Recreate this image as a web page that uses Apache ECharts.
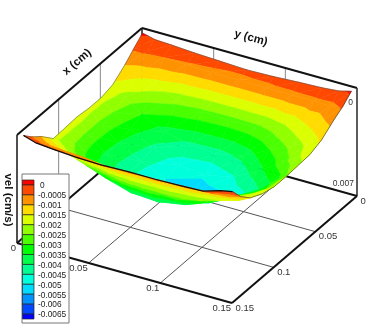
<!DOCTYPE html>
<html>
<head>
  <meta charset="UTF-8"/>
  <title></title>
  <style>
    html, body { margin: 0; background: #fff; }
    #main { width: 374px; height: 332px; filter: blur(0.35px); }
  </style>
</head>
<body>
<div id="main"></div>
<script src="https://cdn.jsdelivr.net/npm/echarts@6/dist/echarts.min.js"></script>
<script type="text/javascript">
    // mesh positions (cm)
    const xs = [0.0068, 0.0168, 0.0282, 0.0425, 0.0567, 0.071, 0.0852, 0.0995, 0.1137, 0.128, 0.1394, 0.1495]
    const ys = [0.0043, 0.013, 0.0247, 0.0407, 0.0582, 0.0772, 0.0961, 0.1136, 0.1296, 0.1413, 0.15]
    // vel (cm/s), one row per xs value, one column per ys value
    const vel = [
        [0.0001, -0.0001, -0.00015, -0.00025, -0.00032, -0.0004, -0.00035, -0.00026, -0.0002, -0.0001, 0.0001],
        [-0.0004, -0.0004, -0.0005, -0.00055, -0.0006, -0.0006, -0.0006, -0.0006, -0.0006, -0.00065, -0.0004],
        [-0.001, -0.0013, -0.0017, -0.0023, -0.0026, -0.0027, -0.0026, -0.0021, -0.0015, -0.0011, -0.0008],
        [-0.0016, -0.0022, -0.003, -0.0037, -0.0041, -0.0042, -0.0038, -0.003, -0.0023, -0.0018, -0.0014],
        [-0.0018, -0.0025, -0.0033, -0.0041, -0.00475, -0.0049, -0.00455, -0.0037, -0.0028, -0.0021, -0.0017],
        [-0.0018, -0.0027, -0.0035, -0.0043, -0.005, -0.0053, -0.0051, -0.0045, -0.0036, -0.0026, -0.00175],
        [-0.0017, -0.0027, -0.0036, -0.0044, -0.0049, -0.0053, -0.0049, -0.0041, -0.0033, -0.0027, -0.0018],
        [-0.00175, -0.0026, -0.0034, -0.0042, -0.0046, -0.0046, -0.0042, -0.0035, -0.0029, -0.0024, -0.0018],
        [-0.0018, -0.0021, -0.0027, -0.0034, -0.0039, -0.004, -0.0037, -0.0031, -0.0023, -0.0019, -0.0016],
        [-0.001, -0.0013, -0.0017, -0.002, -0.0024, -0.0026, -0.0026, -0.0023, -0.0019, -0.0016, -0.0012],
        [-0.0005, -0.0007, -0.0008, -0.0009, -0.0011, -0.0011, -0.0011, -0.001, -0.0009, -0.0008, -0.0006],
        [0.00005, -0.0002, -0.0003, -0.0004, -0.00045, -0.0004, -0.0004, -0.00036, -0.0003, 0.00003, 0.0002]
    ]
    // contour levels and the colour of each band, top band is above levels[0]
    const levels = [0, -0.0005, -0.001, -0.0015, -0.002, -0.0025, -0.003, -0.0035, -0.004, -0.0045, -0.005, -0.0055, -0.006, -0.0065]
    const levelLabels = ['0', '-0.0005', '-0.001', '-0.0015', '-0.002', '-0.0025', '-0.003', '-0.0035', '-0.004', '-0.0045', '-0.005', '-0.0055', '-0.006', '-0.0065']
    const bandColors = ['#ff0000', '#ff4900', '#ff9200', '#ffdb00', '#dbff00', '#92ff00', '#49ff00', '#00ff00', '#00ff49', '#00ff92', '#00ffdb', '#00dbff', '#0092ff', '#0049ff', '#0000ff']
    const xTicks = [0, 0.05, 0.1, 0.15]
    const xTickLabels = ['0', '0.05', '0.1', '0.15']
    const yTicks = [0, 0.05, 0.1, 0.15]
    const yTickLabels = ['0', '0.05', '0.1', '0.15']
    const velTop = 0
    const velBottom = -0.007

    // fixed view of the box: where the back top corner lands and what one full axis moves on the page
    const view = {ox: 142, oy: 28, xdx: -125, xdy: 107, ydx: 215, ydy: 60, zdy: 108}
    const axisMax = 0.15

    function project(x, y, v) {
        let fx = x / axisMax
        let fy = y / axisMax
        let fz = (velTop - v) / (velTop - velBottom)
        return [view.ox + fx * view.xdx + fy * view.ydx, view.oy + fx * view.xdy + fy * view.ydy + fz * view.zdy]
    }

    // keep the part of a polygon whose vel is between lo and hi
    function clipSide(poly, limit, keepAbove) {
        let out = []
        for (let i = 0; i < poly.length; i++) {
            let a = poly[i]
            let b = poly[(i + 1) % poly.length]
            let aIn = keepAbove ? a[2] >= limit : a[2] <= limit
            let bIn = keepAbove ? b[2] >= limit : b[2] <= limit
            if (aIn) out.push(a)
            if (aIn !== bIn) {
                let t = (limit - a[2]) / (b[2] - a[2])
                out.push([a[0] + t * (b[0] - a[0]), a[1] + t * (b[1] - a[1]), limit])
            }
        }
        return out
    }

    // cut the surface into filled contour pieces, back corner first so near cells paint over far ones
    let pieces = []
    function addTriangle(tri) {
        for (let b = 0; b < bandColors.length; b++) {
            let poly = tri
            if (b > 0) poly = clipSide(poly, levels[b - 1], false)
            if (poly.length && b < levels.length) poly = clipSide(poly, levels[b], true)
            if (poly.length > 2) pieces.push({poly: poly, color: bandColors[b]})
        }
    }
    for (let i = 0; i < xs.length - 1; i++) {
        for (let j = 0; j < ys.length - 1; j++) {
            let p00 = [xs[i], ys[j], vel[i][j]]
            let p01 = [xs[i], ys[j + 1], vel[i][j + 1]]
            let p10 = [xs[i + 1], ys[j], vel[i + 1][j]]
            let p11 = [xs[i + 1], ys[j + 1], vel[i + 1][j + 1]]
            addTriangle([p00, p01, p10])
            addTriangle([p01, p11, p10])
        }
    }

    // box edges and grid lines
    const xMin = xTicks[0], xMax = xTicks[3], yMin = yTicks[0], yMax = yTicks[3]
    let lines = []
    function addLine(a, b, width, color) {
        lines.push({a: a, b: b, width: width, color: color})
    }
    for (let k = 1; k < 3; k++) {
        addLine([xTicks[k], yMin, velBottom], [xTicks[k], yMax, velBottom], 1, '#555')
        addLine([xMin, yTicks[k], velBottom], [xMax, yTicks[k], velBottom], 1, '#555')
        addLine([xTicks[k], yMin, velBottom], [xTicks[k], yMin, velTop], 1, '#888')
        addLine([xMin, yTicks[k], velBottom], [xMin, yTicks[k], velTop], 1, '#888')
    }
    addLine([xMin, yMin, velBottom], [xMin, yMin, velTop], 1.5, '#222')
    addLine([xMin, yMin, velTop], [xMax, yMin, velTop], 2, '#111')
    addLine([xMin, yMin, velTop], [xMin, yMax, velTop], 2, '#111')
    addLine([xMax, yMin, velTop], [xMax, yMin, velBottom], 1.6, '#222')
    addLine([xMin, yMax, velTop], [xMin, yMax, velBottom], 1.6, '#333')
    addLine([xMin, yMin, velBottom], [xMax, yMin, velBottom], 2, '#111')
    addLine([xMin, yMin, velBottom], [xMin, yMax, velBottom], 2, '#111')
    addLine([xMax, yMin, velBottom], [xMax, yMax, velBottom], 2, '#111')
    addLine([xMin, yMax, velBottom], [xMax, yMax, velBottom], 2, '#111')

    // outline of the surface
    let rimLow = ys.map((y, j) => [xs[xs.length - 1], y, vel[xs.length - 1][j]])
    let rimBack = ys.map((y, j) => [xs[0], y, vel[0][j]])
    let rimLeft = xs.map((x, i) => [x, ys[0], vel[i][0]])
    let rimRight = xs.map((x, i) => [x, ys[ys.length - 1], vel[i][ys.length - 1]])
    let rims = [
        {pts: rimBack, width: 0.5, color: '#444'},
        {pts: rimLeft, width: 0.5, color: '#444'},
        {pts: rimRight, width: 0.6, color: '#333'},
        {pts: rimLow, width: 1.2, color: '#111'}
    ]

    let tickTexts = []
    xTicks.forEach((x, k) => {
        tickTexts.push({at: [x, yMax, velBottom], text: xTickLabels[k], dx: 3.5, dy: 5, align: 'left', size: 9.5})
    })
    yTicks.forEach((y, k) => {
        tickTexts.push({at: [xMax, y, velBottom], text: yTickLabels[k], dx: -1, dy: 5.5, align: 'right', size: 9.5})
    })
    tickTexts.push({at: [xMin, yMax, velTop], text: '0', dx: -4, dy: 15, align: 'right', size: 8.5})
    tickTexts.push({at: [xMin, yMax, velBottom], text: '0.007', dx: -3, dy: -12, align: 'right', size: 8.5})

    let titles = [
        {text: 'x (cm)', x: 77, y: 62, angle: 40.6},
        {text: 'y (cm)', x: 251, y: 38, angle: -15.6},
        {text: 'vel (cm/s)', x: 8, y: 200, angle: -90}
    ]

    // legend box sizes
    const legend = {left: 22, top: 174, right: 69, bottom: 323, swatchLeft: 22.5, swatchRight: 34, firstEdge: 185, step: 9.93, barTop: 180, barBottom: 319, labelX: 38}

    function toPage(api, p) {
        return api.coord(project(p[0], p[1], p[2]))
    }

    let myChart = echarts.init(document.getElementById('main'), null, {renderer: 'canvas'})
    let option = {
        animation: false,
        backgroundColor: '#fff',
        grid: {left: 0, right: 0, top: 0, bottom: 0},
        xAxis: {type: 'value', min: 0, max: 374, show: false},
        yAxis: {type: 'value', min: 0, max: 332, inverse: true, show: false},
        series: [
            {
                // box and grid
                type: 'custom',
                silent: true,
                clip: false,
                z: 1,
                data: lines.map((l, i) => [i]),
                renderItem: function (params, api) {
                    let l = lines[params.dataIndex]
                    let a = toPage(api, l.a)
                    let b = toPage(api, l.b)
                    return {
                        type: 'line',
                        shape: {x1: a[0], y1: a[1], x2: b[0], y2: b[1]},
                        style: {stroke: l.color, lineWidth: l.width}
                    }
                }
            },
            {
                // contour pieces
                type: 'custom',
                silent: true,
                clip: false,
                z: 2,
                data: pieces.map((p, i) => [i]),
                renderItem: function (params, api) {
                    let piece = pieces[params.dataIndex]
                    return {
                        type: 'polygon',
                        shape: {points: piece.poly.map(p => toPage(api, p))},
                        style: {fill: piece.color, stroke: piece.color, lineWidth: 0.5}
                    }
                }
            },
            {
                type: 'custom',
                silent: true,
                clip: false,
                z: 3,
                data: rims.map((r, i) => [i]),
                renderItem: function (params, api) {
                    let rim = rims[params.dataIndex]
                    return {
                        type: 'polyline',
                        shape: {points: rim.pts.map(p => toPage(api, p))},
                        style: {fill: 'none', stroke: rim.color, lineWidth: rim.width}
                    }
                }
            },
            {
                // tick labels
                type: 'custom',
                silent: true,
                clip: false,
                z: 4,
                data: tickTexts.map((t, i) => [i]),
                renderItem: function (params, api) {
                    let t = tickTexts[params.dataIndex]
                    let p = toPage(api, t.at)
                    return {
                        type: 'text',
                        style: {
                            x: p[0] + t.dx, y: p[1] + t.dy, text: t.text, align: t.align, verticalAlign: 'middle',
                            font: t.size + 'px "Liberation Sans"', fill: '#333'
                        }
                    }
                }
            },
            {
                // axis titles
                type: 'custom',
                silent: true,
                clip: false,
                z: 4,
                data: titles.map((t, i) => [i]),
                renderItem: function (params, api) {
                    let t = titles[params.dataIndex]
                    let p = api.coord([t.x, t.y])
                    return {
                        type: 'text',
                        x: p[0],
                        y: p[1],
                        rotation: t.angle * Math.PI / 180,
                        style: {
                            x: 0, y: 0, text: t.text, align: 'center', verticalAlign: 'middle',
                            font: 'bold 11.5px "Liberation Sans"', fill: '#111'
                        }
                    }
                }
            },
            {
                // contour legend
                type: 'custom',
                silent: true,
                clip: false,
                z: 5,
                data: [[0]],
                renderItem: function (params, api) {
                    let kids = []
                    let c1 = api.coord([legend.left, legend.top])
                    let c2 = api.coord([legend.right, legend.bottom])
                    kids.push({
                        type: 'rect',
                        shape: {x: c1[0], y: c1[1], width: c2[0] - c1[0], height: c2[1] - c1[1]},
                        style: {fill: '#fff', stroke: '#777', lineWidth: 1}
                    })
                    bandColors.forEach((color, b) => {
                        let top = b === 0 ? legend.barTop : legend.firstEdge + (b - 1) * legend.step
                        let bottom = b === bandColors.length - 1 ? legend.barBottom : legend.firstEdge + b * legend.step
                        kids.push({
                            type: 'rect',
                            shape: {x: legend.swatchLeft, y: top, width: legend.swatchRight - legend.swatchLeft, height: bottom - top},
                            style: {fill: color, stroke: '#222', lineWidth: 0.7}
                        })
                    })
                    levelLabels.forEach((label, k) => {
                        kids.push({
                            type: 'text',
                            style: {
                                x: label === '0' ? legend.labelX + 2 : legend.labelX,
                                y: legend.firstEdge + k * legend.step + 1,
                                text: label, align: 'left', verticalAlign: 'middle',
                                font: '8.3px "Liberation Sans"', fill: '#222'
                            }
                        })
                    })
                    return {type: 'group', children: kids}
                }
            }
        ]
    }
    myChart.setOption(option)
</script>
</body>
</html>
